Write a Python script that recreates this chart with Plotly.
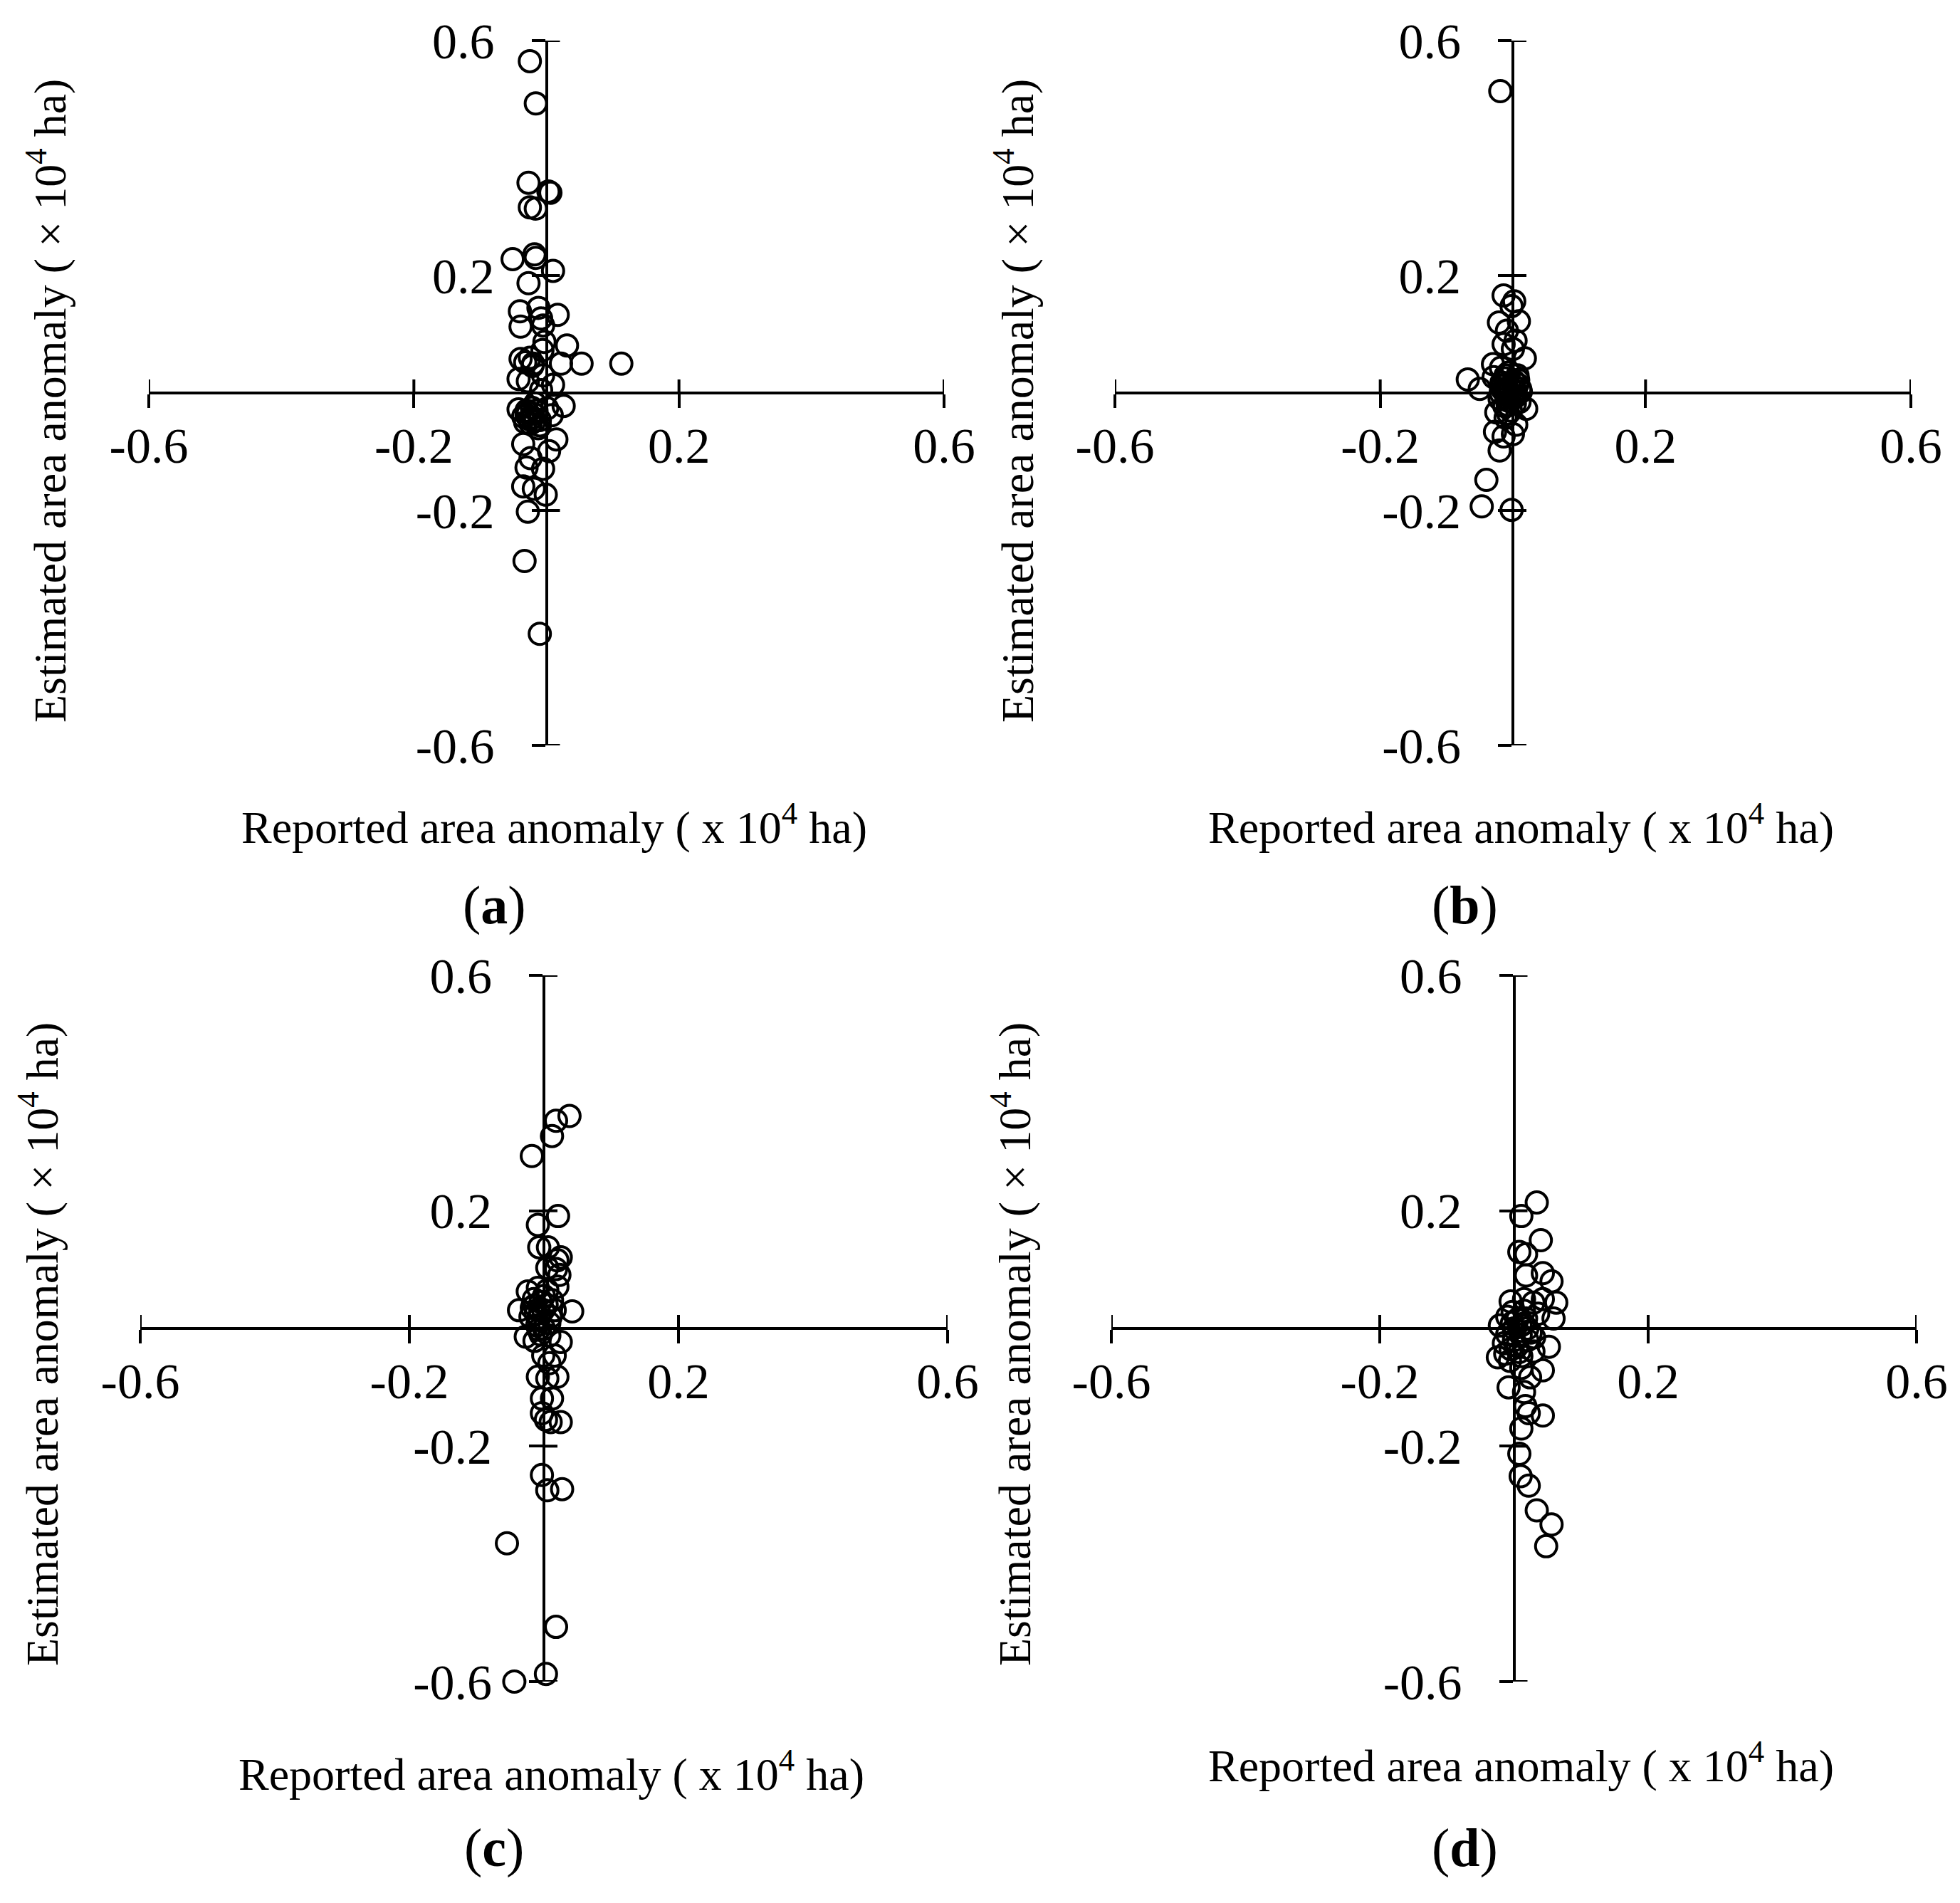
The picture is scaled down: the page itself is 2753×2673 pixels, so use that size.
import plotly.graph_objects as go

# ---------------- data ----------------
# tick values / labels shared by every panel
tick_vals = [-0.6, -0.2, 0.2, 0.6]
tick_text = ["-0.6", "-0.2", "0.2", "0.6"]

# panel (a)
a_x = [-0.025, -0.016, -0.027, 0.003, 0.006, -0.025, -0.016, -0.051, -0.018, -0.016,
       0.010, -0.027, -0.040, -0.012, 0.017, -0.039, -0.008, -0.005, -0.003, 0.031,
       -0.006, -0.039, -0.032, -0.021, 0.022, 0.053, 0.113, -0.042, -0.028, 0.010,
       -0.005, -0.042, -0.028, -0.021, -0.032, -0.010, 0.001, 0.026, 0.008, -0.017,
       0.015, -0.035, 0.004, -0.024, -0.030, -0.005, -0.035, -0.019, -0.001, -0.028,
       -0.033, -0.010, -0.030, -0.020, -0.025, -0.015, -0.035, -0.010, -0.025, -0.020,
       -0.024, -0.018, -0.030, -0.012, -0.022, -0.008]
a_y = [0.565, 0.493, 0.358, 0.343, 0.341, 0.316, 0.314, 0.228, 0.236, 0.230,
       0.208, 0.187, 0.139, 0.145, 0.133, 0.113, 0.127, 0.115, 0.087, 0.081,
       0.073, 0.058, 0.052, 0.046, 0.050, 0.050, 0.050, 0.024, 0.020, 0.014,
       0.030, -0.028, -0.034, -0.042, -0.050, -0.046, -0.026, -0.022, -0.038, -0.018,
       -0.079, -0.087, -0.099, -0.111, -0.127, -0.129, -0.159, -0.163, -0.173, -0.202,
       -0.286, -0.410, -0.030, -0.035, -0.045, -0.030, -0.040, -0.055, 0.060, 0.050,
       -0.052, -0.048, -0.038, -0.060, -0.025, 0.005]

# panel (b)
b_x = [-0.019, -0.014, 0.002, -0.002, -0.021, 0.009, -0.009, 0.004, -0.014, 0.000,
       0.018, -0.030, -0.018, -0.068, -0.050, -0.029, -0.011, 0.007, -0.018, 0.004,
       -0.007, 0.011, 0.020, -0.025, -0.011, 0.005, -0.027, -0.014, 0.000, -0.020,
       -0.040, -0.047, -0.002, -0.010, -0.005, 0.000, -0.015, 0.005, -0.008, 0.002,
       -0.020, 0.010, -0.012, -0.003, 0.007, -0.016, 0.012, -0.006, -0.013, 0.003,
       -0.009, -0.017, 0.008, -0.004, -0.011, 0.001, -0.007]
b_y = [0.514, 0.166, 0.156, 0.148, 0.120, 0.122, 0.106, 0.089, 0.083, 0.075,
       0.059, 0.049, 0.043, 0.023, 0.007, 0.027, 0.015, 0.015, -0.001, 0.003,
       -0.013, 0.007, -0.027, -0.033, -0.042, -0.054, -0.066, -0.074, -0.070, -0.098,
       -0.148, -0.193, -0.199, 0.000, 0.010, -0.010, 0.005, -0.005, -0.020, 0.020,
       -0.010, -0.015, 0.025, -0.030, 0.030, 0.012, 0.002, 0.035, -0.022, -0.018,
       0.008, 0.018, 0.022, -0.003, 0.030, 0.012, -0.035]

# panel (c)
c_x = [0.012, 0.018, 0.038, -0.018, 0.021, -0.009, -0.007, 0.006, 0.020, 0.025,
       0.005, 0.023, 0.018, -0.024, -0.009, 0.005, 0.020, -0.037, -0.014, -0.001,
       0.016, 0.042, -0.007, 0.008, -0.027, -0.014, 0.008, 0.025, -0.001, 0.016,
       0.008, -0.009, 0.005, 0.020, -0.003, 0.012, -0.003, 0.003, 0.010, 0.025,
       -0.003, 0.005, 0.027, -0.055, 0.018, 0.003, -0.044, -0.015, -0.005, -0.020,
       0.000, -0.010, 0.010, -0.005, -0.018, 0.000, -0.012, 0.004, -0.008, 0.012]
c_y = [0.327, 0.353, 0.361, 0.293, 0.191, 0.176, 0.138, 0.138, 0.116, 0.121,
       0.103, 0.091, 0.101, 0.063, 0.069, 0.065, 0.071, 0.031, 0.039, 0.031,
       0.031, 0.029, 0.018, 0.009, -0.014, -0.021, -0.012, -0.023, -0.046, -0.046,
       -0.059, -0.082, -0.085, -0.082, -0.119, -0.119, -0.144, -0.155, -0.159, -0.159,
       -0.249, -0.275, -0.273, -0.365, -0.507, -0.587, -0.600, 0.050, 0.045, 0.020,
       0.000, 0.005, 0.020, -0.010, 0.035, 0.055, 0.025, 0.040, -0.002, 0.048]

# panel (d)
d_x = [0.034, 0.011, 0.040, 0.008, 0.018, 0.018, 0.043, 0.056, -0.005, 0.015,
       0.029, 0.043, 0.063, 0.059, -0.021, -0.003, 0.018, 0.036, 0.010, 0.025,
       0.052, -0.024, -0.013, -0.006, 0.011, 0.029, 0.011, 0.043, 0.024, -0.008,
       0.015, 0.017, 0.022, 0.043, 0.011, 0.008, 0.010, 0.022, 0.034, 0.056,
       0.048, 0.000, 0.010, -0.010, 0.020, 0.005, -0.010, 0.015, 0.000, -0.015,
       0.020, 0.005, 0.030, -0.005, 0.008, 0.014, -0.002]
d_y = [0.214, 0.191, 0.150, 0.130, 0.126, 0.090, 0.094, 0.080, 0.046, 0.050,
       0.044, 0.050, 0.044, 0.017, 0.005, 0.009, 0.017, 0.025, -0.011, -0.007,
       -0.031, -0.049, -0.043, -0.055, -0.047, -0.039, -0.067, -0.071, -0.083, -0.100,
       -0.108, -0.132, -0.144, -0.148, -0.170, -0.213, -0.251, -0.267, -0.309, -0.333,
       -0.370, 0.000, 0.005, -0.010, -0.020, -0.030, 0.020, 0.030, -0.020, -0.025,
       0.000, 0.015, -0.015, -0.035, -0.040, 0.008, 0.028]

panel_labels = ["a", "b", "c", "d"]
x_title = "Reported area anomaly ( x 10<sup>4</sup> ha)"
y_title = "Estimated area anomaly ( \u00d7 10<sup>4</sup> ha)"

# ---------------- layout geometry (pixels of the 2753 x 2673 page) ----------------
PAGE_W, PAGE_H = 2753, 2673
OFF = 8                      # default body margin of the html page
W, H = PAGE_W - 2 * OFF, PAGE_H - 2 * OFF
FONT = "Liberation Serif, Times New Roman, serif"


def px(xp):
    return (xp - OFF) / W


def py(yp):
    return 1 - (yp - OFF) / H


# plot boxes: (left, right, top, bottom) in page pixels
boxes = [
    (209, 1326, 57, 1047),
    (1566, 2684, 57, 1047),
    (197, 1331, 1370, 2362),
    (1561, 2692, 1370, 2362),
]
xtitle_pos = [(778, 1157), (2136, 1157), (774, 2487), (2136, 2475)]
ytitle_pos = [(66, 563), (1425, 563), (54, 1888), (1420, 1888)]
label_pos = [(694, 1271), (2057, 1271), (694, 2595), (2057, 2595)]

series = [(a_x, a_y), (b_x, b_y), (c_x, c_y), (d_x, d_y)]

fig = go.Figure()
shapes = []
annotations = []
TL = 19  # half tick length, px

for i, ((xs, ys), (l, r, t, b)) in enumerate(zip(series, boxes), start=1):
    sfx = "" if i == 1 else str(i)
    xd = [px(l), px(r)]
    yd = [py(b), py(t)]
    xc = (xd[0] + xd[1]) / 2
    yc = (yd[0] + yd[1]) / 2

    fig.add_trace(go.Scatter(
        x=xs, y=ys, mode="markers", xaxis="x" + sfx, yaxis="y" + sfx,
        marker=dict(symbol="circle", size=30, color="rgba(0,0,0,0)",
                    line=dict(color="black", width=4)),
        cliponaxis=False, showlegend=False, hoverinfo="skip"))

    common = dict(range=[-0.6, 0.6], showgrid=False, zeroline=False,
                  showline=True, linecolor="black", linewidth=4,
                  tickmode="array", tickvals=tick_vals, ticktext=tick_text,
                  ticks="outside", ticklen=TL, tickwidth=4, tickcolor="black",
                  tickfont=dict(family=FONT, size=70, color="black"),
                  anchor="free", automargin=False, fixedrange=True)
    fig.update_layout(**{
        "xaxis" + sfx: dict(domain=xd, position=yc, ticklabelstandoff=-7, **common),
        "yaxis" + sfx: dict(domain=yd, position=xc, ticklabelstandoff=38, **common),
    })

    # inner half of the crossing tick marks
    for v in tick_vals:
        shapes.append(dict(type="line", xref="x" + sfx, yref="y" + sfx,
                           x0=v, x1=v, ysizemode="pixel", yanchor=0, y0=0, y1=TL,
                           line=dict(color="black", width=4)))
        shapes.append(dict(type="line", xref="x" + sfx, yref="y" + sfx,
                           y0=v, y1=v, xsizemode="pixel", xanchor=0, x0=0, x1=TL,
                           line=dict(color="black", width=4)))

    k = i - 1
    annotations.append(dict(text=x_title, xref="paper", yref="paper",
                            x=px(xtitle_pos[k][0]), y=py(xtitle_pos[k][1]),
                            xanchor="center", yanchor="middle", showarrow=False,
                            font=dict(family=FONT, size=64, color="black")))
    annotations.append(dict(text=y_title, xref="paper", yref="paper",
                            x=px(ytitle_pos[k][0]), y=py(ytitle_pos[k][1]),
                            xanchor="center", yanchor="middle", showarrow=False,
                            textangle=-90,
                            font=dict(family=FONT, size=64, color="black")))
    annotations.append(dict(text="(<b>" + panel_labels[k] + "</b>)", xref="paper", yref="paper",
                            x=px(label_pos[k][0]), y=py(label_pos[k][1]),
                            xanchor="center", yanchor="middle", showarrow=False,
                            font=dict(family=FONT, size=76, color="black")))

fig.update_layout(width=W, height=H, autosize=False,
                  margin=dict(l=0, r=0, t=0, b=0, autoexpand=False),
                  paper_bgcolor="white", plot_bgcolor="white",
                  shapes=shapes, annotations=annotations)

fig.write_html("out.html")
